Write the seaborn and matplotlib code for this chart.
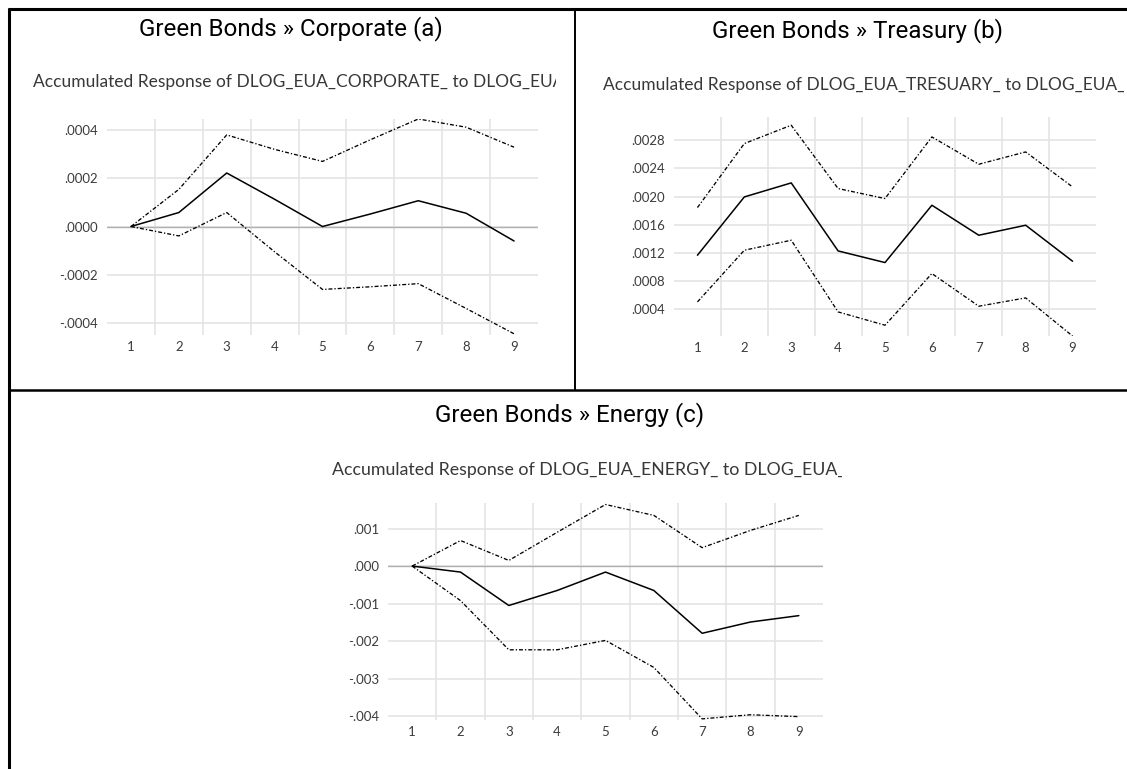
import numpy as np
import pandas as pd
import matplotlib
matplotlib.use("Agg")
import matplotlib.pyplot as plt
from matplotlib import font_manager
from matplotlib.lines import Line2D
from matplotlib.transforms import Bbox
import seaborn as sns

# ---- data: accumulated impulse responses with +/- 2 S.E. bands ----
periods = [1, 2, 3, 4, 5, 6, 7, 8, 9]

corp_response = [0.0, 0.000058, 0.000222, 0.000113, 0.0, 0.000052, 0.000107, 0.000055, -0.00006]
corp_upper = [0.0, 0.000154, 0.00038, 0.00032, 0.00027, 0.00036, 0.000446, 0.000412, 0.000329]
corp_lower = [0.0, -0.000039, 0.000058, -0.000105, -0.000261, -0.00025, -0.000237, -0.00034, -0.000445]

treas_response = [0.001167, 0.001995, 0.002194, 0.001228, 0.001063, 0.001877, 0.001451, 0.001593, 0.001082]
treas_upper = [0.001844, 0.002753, 0.003013, 0.002114, 0.001972, 0.002847, 0.002459, 0.002634, 0.002137]
treas_lower = [0.000504, 0.001238, 0.00138, 0.000362, 0.000173, 0.000907, 0.000443, 0.000561, 0.00002]

energy_response = [0.0, -0.00016, -0.00105, -0.00065, -0.00016, -0.00065, -0.00179, -0.00149, -0.00132]
energy_upper = [0.0, 0.00068, 0.00015, 0.0009, 0.00164, 0.00135, 0.00049, 0.00095, 0.00135]
energy_lower = [0.0, -0.00092, -0.00223, -0.00223, -0.00198, -0.0027, -0.00407, -0.00396, -0.00401]

corp_yticks = [-0.0004, -0.0002, 0.0, 0.0002, 0.0004]
treas_yticks = [0.0004, 0.0008, 0.0012, 0.0016, 0.0020, 0.0024, 0.0028]
energy_yticks = [-0.004, -0.003, -0.002, -0.001, 0.0, 0.001]

titles = ["Green Bonds \u00bb Corporate (a)", "Green Bonds \u00bb Treasury (b)", "Green Bonds \u00bb Energy (c)"]
subtitles = [
    "Accumulated Response of DLOG_EUA_CORPORATE_ to DLOG_EUA_",
    "Accumulated Response of DLOG_EUA_TRESUARY_ to DLOG_EUA_",
    "Accumulated Response of DLOG_EUA_ENERGY_ to DLOG_EUA_",
]
# leading part of each subtitle used to size the font
subtitle_visible = [
    "Accumulated Response of DLOG_EUA_CORPORATE_ to DLOG_EU",
    "Accumulated Response of DLOG_EUA_TRESUARY_ to DLOG_EUA",
    "Accumulated Response of DLOG_EUA_ENERGY_ to DLOG_EUA",
]

# ---- page setup ----
W, H = 1127, 769
sns.set_theme(style="white")

available = {f.name for f in font_manager.fontManager.ttflist}


def pick(*names):
    for n in names:
        if n in available:
            return n
    return "DejaVu Sans"


TITLE_FONT = pick("Roboto", "Liberation Sans", "Arimo")
LABEL_FONT = pick("Lato", "Open Sans", "Noto Sans")
plt.rcParams["font.family"] = [LABEL_FONT, "DejaVu Sans"]

fig = plt.figure(figsize=(W / 100, H / 100), dpi=100)
fig.patch.set_facecolor("white")


def px_rect(left, top, right, bottom):
    return [left / W, 1 - bottom / H, (right - left) / W, (bottom - top) / H]


def fmt(v, nd):
    s = f"{v:.{nd}f}"
    return s.replace("0.", ".", 1)


panels = [
    dict(resp=corp_response, up=corp_upper, lo=corp_lower, yticks=corp_yticks, nd=4,
         ylim=(-0.00045, 0.000446), box=(107, 119, 538, 335)),
    dict(resp=treas_response, up=treas_upper, lo=treas_lower, yticks=treas_yticks, nd=4,
         ylim=(0.00002, 0.00313), box=(674, 117, 1096, 336)),
    dict(resp=energy_response, up=energy_upper, lo=energy_lower, yticks=energy_yticks, nd=3,
         ylim=(-0.0041, 0.00168), box=(388, 503, 823, 720)),
]

GRID = "#e4e4e4"
TICK_COLOR = "#3c3c3c"
BAND_DASH = (0, (3, 1.5, 1, 1.5))

for p in panels:
    ax = fig.add_axes(px_rect(*p["box"]))
    df = pd.DataFrame({"period": periods, "response": p["resp"],
                       "upper": p["up"], "lower": p["lo"]})
    sns.lineplot(data=df, x="period", y="upper", ax=ax, color="black",
                 linewidth=0.95, linestyle=BAND_DASH, zorder=3)
    sns.lineplot(data=df, x="period", y="lower", ax=ax, color="black",
                 linewidth=0.95, linestyle=BAND_DASH, zorder=3)
    sns.lineplot(data=df, x="period", y="response", ax=ax, color="black",
                 linewidth=1.1, zorder=4)

    ax.set_xlim(0.5, 9.5)
    ax.set_ylim(*p["ylim"])
    ax.set_xticks(periods)
    ax.set_xticklabels([str(v) for v in periods])
    ax.set_xticks(np.arange(1.5, 9.0, 1.0), minor=True)
    ax.set_yticks(p["yticks"])
    ax.set_yticklabels([fmt(v, p["nd"]) for v in p["yticks"]])

    ax.grid(False)
    ax.grid(True, which="minor", axis="x", color=GRID, linewidth=1.2)
    ax.grid(True, which="major", axis="y", color=GRID, linewidth=1.2)
    ax.set_axisbelow(True)
    if p["ylim"][0] < 0 < p["ylim"][1]:
        ax.axhline(0, color="#b0b0b0", linewidth=1.0, zorder=2)

    for s in ax.spines.values():
        s.set_visible(False)
    ax.tick_params(axis="both", which="both", length=0, labelsize=9.5,
                   colors=TICK_COLOR)
    ax.tick_params(axis="y", pad=6.5)
    ax.tick_params(axis="x", pad=4.5)
    ax.set_xlabel("")
    ax.set_ylabel("")
    ax.set_facecolor("white")

# ---- table frame ----
def hline(y, x0, x1, lw):
    fig.add_artist(Line2D([x0 / W, x1 / W], [1 - y / H, 1 - y / H],
                          transform=fig.transFigure, color="black", linewidth=lw,
                          solid_capstyle="butt"))


def vline(x, y0, y1, lw):
    fig.add_artist(Line2D([x / W, x / W], [1 - y0 / H, 1 - y1 / H],
                          transform=fig.transFigure, color="black", linewidth=lw,
                          solid_capstyle="butt"))


hline(9, 7.5, W, 2.2)
vline(9, 7.5, H, 2.2)
vline(575, 9, 390, 1.4)
hline(390, 8, W, 1.8)

# ---- titles and subtitles ----
fig.canvas.draw()
renderer = fig.canvas.get_renderer()

probe = fig.text(0, 0, titles[0], fontsize=16, family=[TITLE_FONT, "DejaVu Sans"])
title_fs = 16 * 303 / probe.get_window_extent(renderer=renderer).width
probe.remove()

title_pos = [(291, 29), (858, 31), (570, 415)]
for text, (cx, cy) in zip(titles, title_pos):
    fig.text(cx / W, 1 - cy / H, text, ha="center", va="center",
             fontsize=title_fs, family=[TITLE_FONT, "DejaVu Sans"], color="black")

sub_specs = [(33, 82, 551, 556), (603, 85, 1116, 1124), (332, 470, 836, 842)]
for full, vis, (x0, cy, x_end, clip_r) in zip(subtitles, subtitle_visible, sub_specs):
    probe = fig.text(0, 0, vis, fontsize=10)
    w = probe.get_window_extent(renderer=renderer).width
    probe.remove()
    fs = 10 * (x_end - x0) / w
    t = fig.text(x0 / W, 1 - cy / H, full, ha="left", va="center", fontsize=fs,
                 color="#383838")
    t.set_clip_box(Bbox.from_extents(0, 0, clip_r, H))
    t.set_clip_on(True)

fig.savefig("out.png", dpi=100, facecolor="white")
